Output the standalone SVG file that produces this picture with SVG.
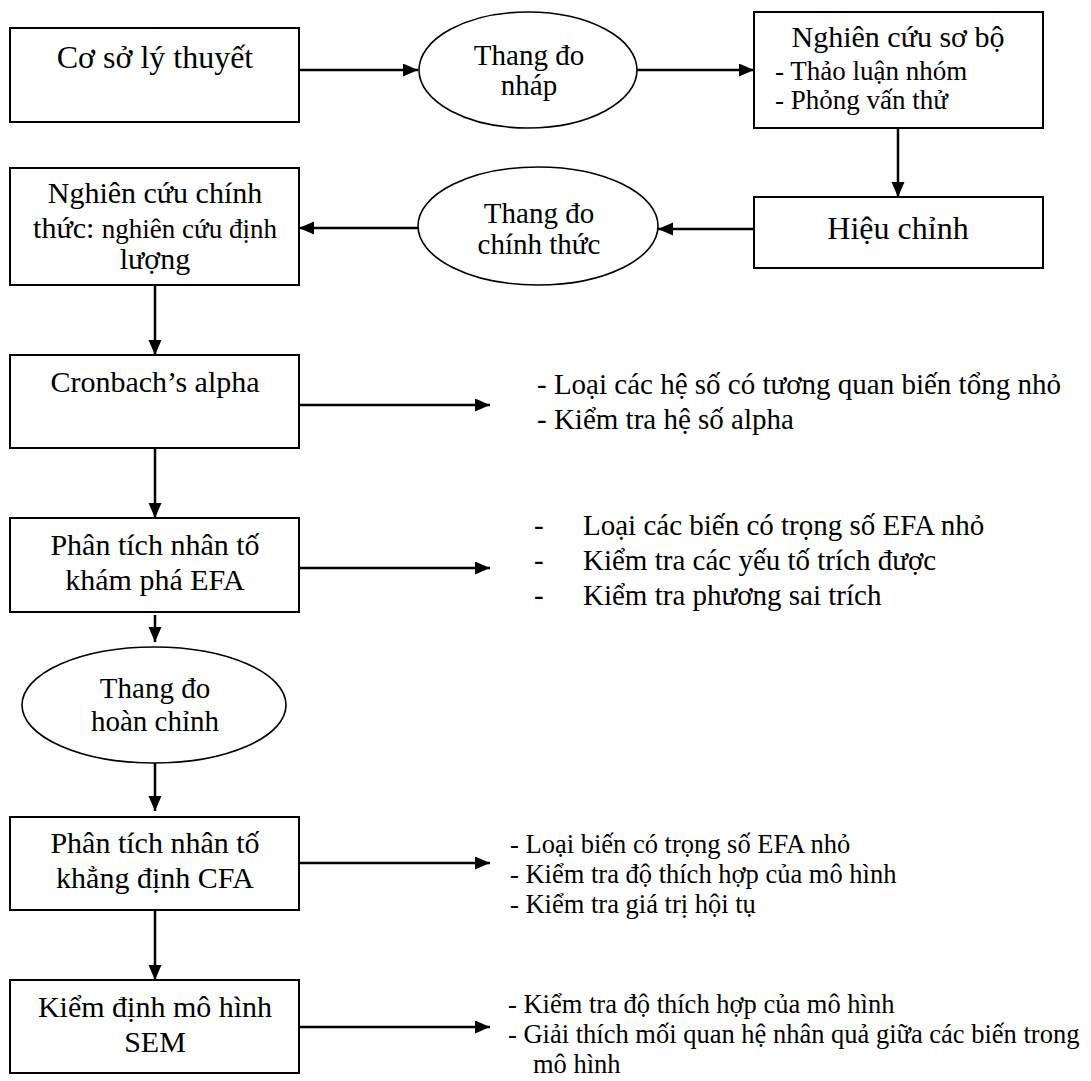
<svg xmlns="http://www.w3.org/2000/svg" width="1091" height="1081" viewBox="0 0 1091 1081">
<style>
  .box { fill: #fff; stroke: #000; stroke-width: 2; }
  .ell { fill: #fff; stroke: #000; stroke-width: 1.6; }
  .t { font-family: "Liberation Serif", "Times New Roman", serif; fill: #000; }
  .c { text-anchor: middle; }
  .f32 { font-size: 32px; }
  .f30 { font-size: 30px; }
  .f29 { font-size: 29px; }
  .f27 { font-size: 27px; }
  .f26 { font-size: 26.5px; }
  .conn line { stroke: #000; stroke-width: 2.5; marker-end: url(#ah); }
</style>
<defs>
  <marker id="ah" markerUnits="userSpaceOnUse" markerWidth="16" markerHeight="14" refX="15" refY="6.5" orient="auto">
    <path d="M0,0 L15,6.5 L0,13 Z" fill="#000"/>
  </marker>
</defs>
<rect width="1091" height="1081" fill="#fff"/>

<g id="n-coso">
  <rect class="box" x="10" y="28" width="289" height="94"/>
  <text class="t c f32" x="155" y="68">Cơ sở lý thuyết</text>
</g>
<g id="n-thangdo-nhap">
  <ellipse class="ell" cx="528" cy="70" rx="109" ry="58"/>
  <text class="t c f29" x="529" y="65">Thang đo</text>
  <text class="t c f29" x="529" y="95">nháp</text>
</g>
<g id="n-nghiencuu-sobo">
  <rect class="box" x="754" y="12" width="289" height="116"/>
  <text class="t c f30" x="898" y="47">Nghiên cứu sơ bộ</text>
  <text class="t f27" x="775" y="80">- Thảo luận nhóm</text>
  <text class="t f27" x="775" y="109">- Phỏng vấn thử</text>
</g>
<g id="n-hieuchinh">
  <rect class="box" x="754" y="197" width="289" height="71"/>
  <text class="t c f32" x="898" y="239">Hiệu chỉnh</text>
</g>
<g id="n-thangdo-chinhthuc">
  <ellipse class="ell" cx="538" cy="226" rx="120" ry="59"/>
  <text class="t c f29" x="539" y="223">Thang đo</text>
  <text class="t c f29" x="539" y="254">chính thức</text>
</g>
<g id="n-nghiencuu-chinhthuc">
  <rect class="box" x="10" y="168" width="289" height="117"/>
  <text class="t c f30" x="155" y="203">Nghiên cứu chính</text>
  <text class="t c f30" x="155" y="238">thức: <tspan font-size="27">nghiên cứu định</tspan></text>
  <text class="t c f30" x="155" y="269">lượng</text>
</g>
<g id="n-cronbach">
  <rect class="box" x="10" y="355" width="289" height="93"/>
  <text class="t c f30" x="155" y="392">Cronbach’s alpha</text>
</g>
<g id="n-cronbach-notes">
  <text class="t f29" x="537" y="394">- Loại các hệ số có tương quan biến tổng nhỏ</text>
  <text class="t f29" x="537" y="429">- Kiểm tra hệ số alpha</text>
</g>
<g id="n-efa">
  <rect class="box" x="10" y="518" width="289" height="94"/>
  <text class="t c f30" x="155" y="555">Phân tích nhân tố</text>
  <text class="t c f30" x="155" y="590">khám phá EFA</text>
</g>
<g id="n-efa-notes">
  <text class="t f29" x="534" y="535">-</text>
  <text class="t f29" x="583" y="535">Loại các biến có trọng số EFA nhỏ</text>
  <text class="t f29" x="534" y="570">-</text>
  <text class="t f29" x="583" y="570">Kiểm tra các yếu tố trích được</text>
  <text class="t f29" x="534" y="605">-</text>
  <text class="t f29" x="583" y="605">Kiểm tra phương sai trích</text>
</g>
<g id="n-thangdo-hoanchinh">
  <ellipse class="ell" cx="154" cy="705" rx="132" ry="58"/>
  <text class="t c f29" x="155" y="698">Thang đo</text>
  <text class="t c f29" x="155" y="731">hoàn chỉnh</text>
</g>
<g id="n-cfa">
  <rect class="box" x="10" y="817" width="289" height="93"/>
  <text class="t c f30" x="155" y="853">Phân tích nhân tố</text>
  <text class="t c f30" x="155" y="888">khẳng định CFA</text>
</g>
<g id="n-cfa-notes">
  <text class="t f26" x="510" y="853">- Loại biến có trọng số EFA nhỏ</text>
  <text class="t f26" x="510" y="883">- Kiểm tra độ thích hợp của mô hình</text>
  <text class="t f26" x="510" y="913">- Kiểm tra giá trị hội tụ</text>
</g>
<g id="n-sem">
  <rect class="box" x="10" y="980" width="289" height="93"/>
  <text class="t c f30" x="155" y="1017">Kiểm định mô hình</text>
  <text class="t c f30" x="155" y="1052">SEM</text>
</g>
<g id="n-sem-notes">
  <text class="t f26" x="508" y="1013">- Kiểm tra độ thích hợp của mô hình</text>
  <text class="t f26" x="508" y="1043">- Giải thích mối quan hệ nhân quả giữa các biến trong</text>
  <text class="t f26" x="533" y="1073">mô hình</text>
</g>

<g id="connectors" class="conn">
  <line x1="299" y1="70" x2="418" y2="70"/>
  <line x1="637" y1="70" x2="754" y2="70"/>
  <line x1="898" y1="128" x2="898" y2="197"/>
  <line x1="754" y1="229" x2="658" y2="229"/>
  <line x1="418" y1="228" x2="299" y2="228"/>
  <line x1="155" y1="285" x2="155" y2="355"/>
  <line x1="299" y1="405" x2="490" y2="405"/>
  <line x1="155" y1="448" x2="155" y2="518"/>
  <line x1="299" y1="568" x2="490" y2="568"/>
  <line x1="155" y1="615" x2="155" y2="642"/>
  <line x1="155" y1="763" x2="155" y2="811"/>
  <line x1="299" y1="863" x2="490" y2="863"/>
  <line x1="155" y1="910" x2="155" y2="980"/>
  <line x1="299" y1="1027" x2="490" y2="1027"/>
</g>
</svg>
